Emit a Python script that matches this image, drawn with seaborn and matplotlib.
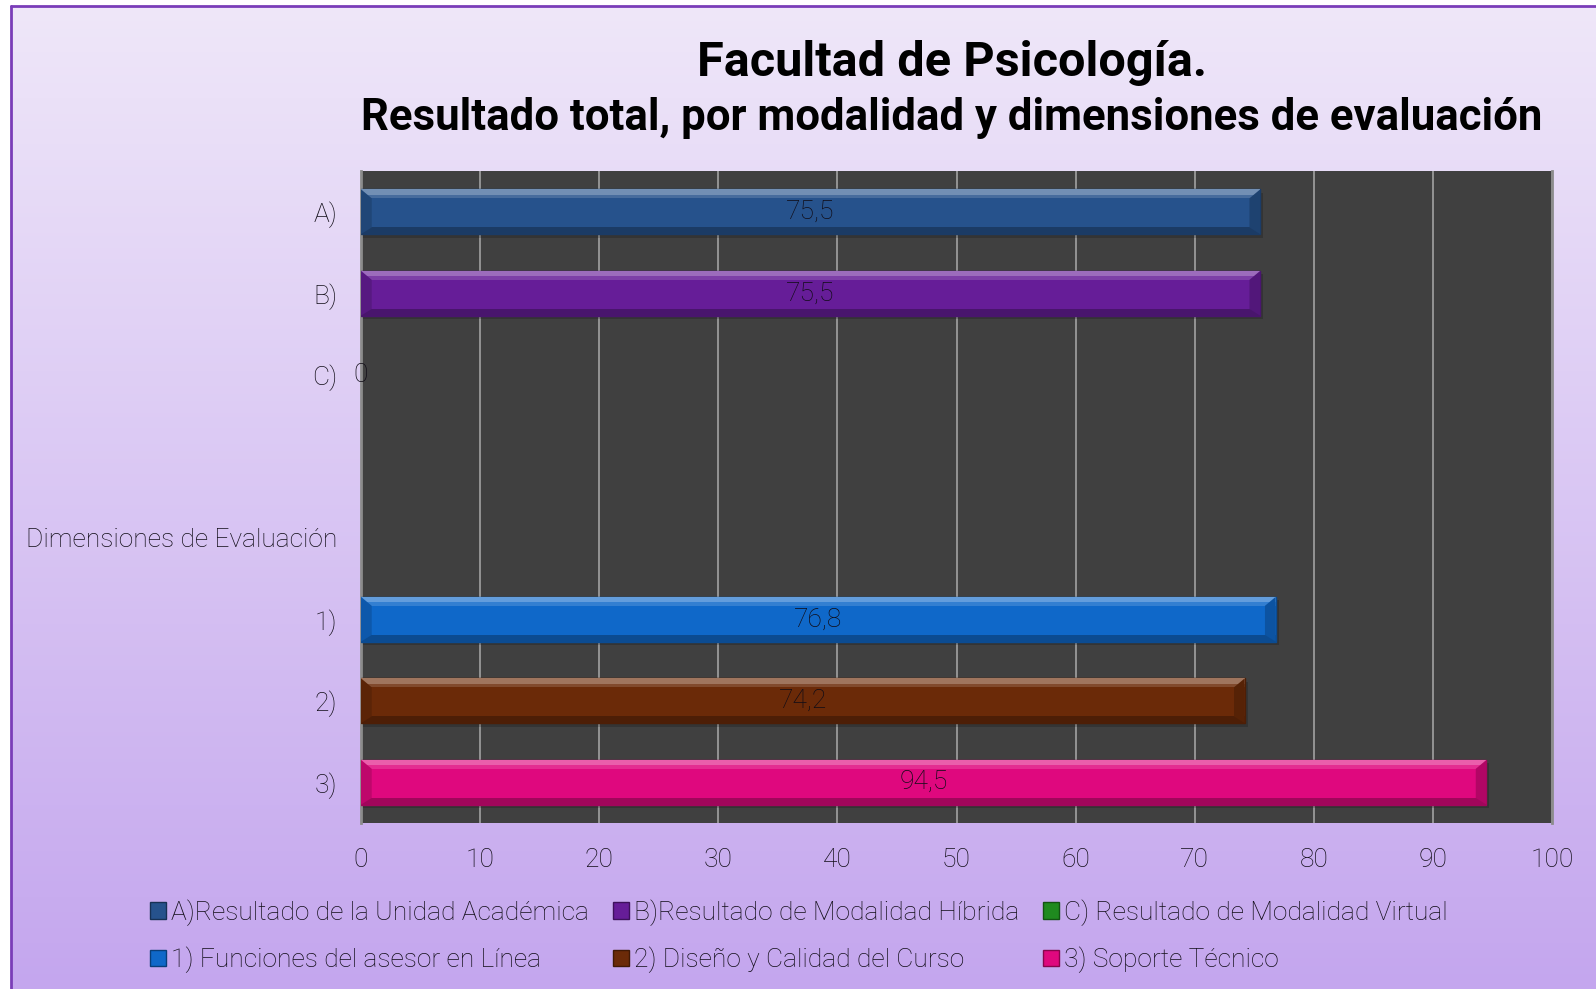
import numpy as np
import pandas as pd
import matplotlib.pyplot as plt
import matplotlib.colors as mcolors
from matplotlib.patches import Rectangle, Patch, Polygon
import seaborn as sns

# categories on the y axis (blank slot + group heading included)
labels = ['A)', 'B)', 'C)', ' ', 'Dimensiones de Evaluación', '1)', '2)', '3)']
series = ['A)', 'B)', 'C)', '1)', '2)', '3)']
values = [75.5, 75.5, 0, 76.8, 74.2, 94.5]
value_text = ['75,5', '75,5', '0', '76,8', '74,2', '94,5']
legend_names = ['A)Resultado de la Unidad Académica',
                'B)Resultado de Modalidad Híbrida',
                'C) Resultado de Modalidad Virtual',
                '1) Funciones del asesor en Línea',
                '2) Diseño y Calidad del Curso',
                '3) Soporte Técnico']
colors = ['#26528c', '#661d98', '#1f8a1f', '#0f68c9', '#6b2a08', '#df087e']
xticks = list(range(0, 101, 10))

df = pd.DataFrame({'label': series, 'value': values})

sns.set_theme(style='dark')
plt.rcParams['font.family'] = ['Roboto', 'DejaVu Sans']
txt_color = '#120e18'
fs = 19

fig = plt.figure(figsize=(15.96, 9.89), dpi=100)
fig.patch.set_facecolor('white')

# gradient background + purple border
bg = fig.add_axes([0, 0, 1, 1], zorder=-10)
grad = np.linspace(0, 1, 256)[:, None]
cmap = mcolors.LinearSegmentedColormap.from_list('bg', ['#efe7f9', '#c4a6ee'])
x0, y1 = 11 / 1596, 1 - 6 / 989
bg.imshow(grad, aspect='auto', cmap=cmap, extent=[x0, 1, 0, y1])
bg.plot([x0, x0], [0, y1], color='#7a3db8', lw=2)
bg.plot([x0, 1], [y1, y1], color='#7a3db8', lw=2)
bg.set_xlim(0, 1)
bg.set_ylim(0, 1)
bg.axis('off')

ax = fig.add_axes([361 / 1596, 1 - 823 / 989, 1191 / 1596, 652 / 989])
sns.barplot(data=df, x='value', y='label', hue='label', order=labels,
            palette=dict(zip(series, colors)), orient='h', width=0.55,
            saturation=1, legend=False, ax=ax, zorder=3)

# fake bevel: light strip on top, darker strip at bottom, slanted ends
for p in list(ax.patches):
    w = p.get_width()
    if w <= 0:
        p.set_edgecolor('none')
        p.set_linewidth(0)
        continue
    x, y, h = p.get_x(), p.get_y(), p.get_height()
    c = np.array(mcolors.to_rgb(p.get_facecolor()))
    light = c + (1 - c) * 0.35
    dark = c * 0.72
    ax.add_patch(Rectangle((x, y + h * 0.08), w + 0.25, h * 1.0,
                           color='black', alpha=0.18, zorder=2, lw=0))
    ax.add_patch(Rectangle((x, y), w, h * 0.12, color=light, zorder=4, lw=0))
    ax.add_patch(Rectangle((x, y + h * 0.12), w, h * 0.08,
                           color=c + (1 - c) * 0.15, zorder=4, lw=0))
    ax.add_patch(Rectangle((x, y + h * 0.85), w, h * 0.15, color=dark,
                           zorder=4, lw=0))
    d = 0.9
    ax.add_patch(Polygon([(x, y), (x + d, y + h * 0.2), (x + d, y + h * 0.85),
                          (x, y + h)], closed=True, color=c * 0.85, zorder=4, lw=0))
    ax.add_patch(Polygon([(x + w, y), (x + w - d, y + h * 0.2),
                          (x + w - d, y + h * 0.85), (x + w, y + h)],
                         closed=True, color=c * 0.8, zorder=4, lw=0))
    p.set_edgecolor(dark)
    p.set_linewidth(1)

for s, v, t in zip(series, values, value_text):
    ax.text(v / 2, labels.index(s), t, ha='center', va='center',
            fontsize=fs, color='#100c16', fontweight='light', zorder=6)

ax.set_facecolor('#404040')
ax.set_xlim(0, 100)
ax.set_xticks(xticks)
ax.grid(axis='x', color='#9a9a9a', lw=1.3, zorder=0)
ax.grid(axis='y', visible=False)
ax.set_axisbelow(True)
for side in ['top', 'bottom']:
    ax.spines[side].set_visible(False)
for side in ['left', 'right']:
    ax.spines[side].set_visible(True)
    ax.spines[side].set_color('#8c8c8c')
    ax.spines[side].set_linewidth(2)
ax.set_xlabel('')
ax.set_ylabel('')
ax.tick_params(axis='y', length=0, pad=17, labelsize=fs, labelcolor=txt_color)
ax.tick_params(axis='x', length=0, pad=18, labelsize=fs, labelcolor=txt_color)
for lab in ax.get_xticklabels() + ax.get_yticklabels():
    lab.set_fontweight('light')

fig.text(952 / 1596, 1 - 63 / 989, 'Facultad de Psicología.', ha='center',
         va='center', fontsize=35, fontweight='bold', color='black')
fig.text(952 / 1596, 1 - 118 / 989,
         'Resultado total, por modalidad y dimensiones de evaluación',
         ha='center', va='center', fontsize=31.5, fontweight='bold', color='black')

order = [0, 3, 1, 4, 2, 5]
handles = [Patch(facecolor=colors[i], edgecolor=np.array(mcolors.to_rgb(colors[i])) * 0.6,
                 label=legend_names[i]) for i in order]
fig.legend(handles=handles, ncol=3, loc='upper left',
           bbox_to_anchor=(150 / 1596, 1 - 899 / 989), frameon=False,
           handlelength=0.6, handleheight=0.6, handletextpad=0.2,
           columnspacing=0.9, labelspacing=0.8, borderpad=0, borderaxespad=0,
           prop={'weight': 'light', 'size': fs}, labelcolor=txt_color)

fig.savefig('out.png', dpi=100)
